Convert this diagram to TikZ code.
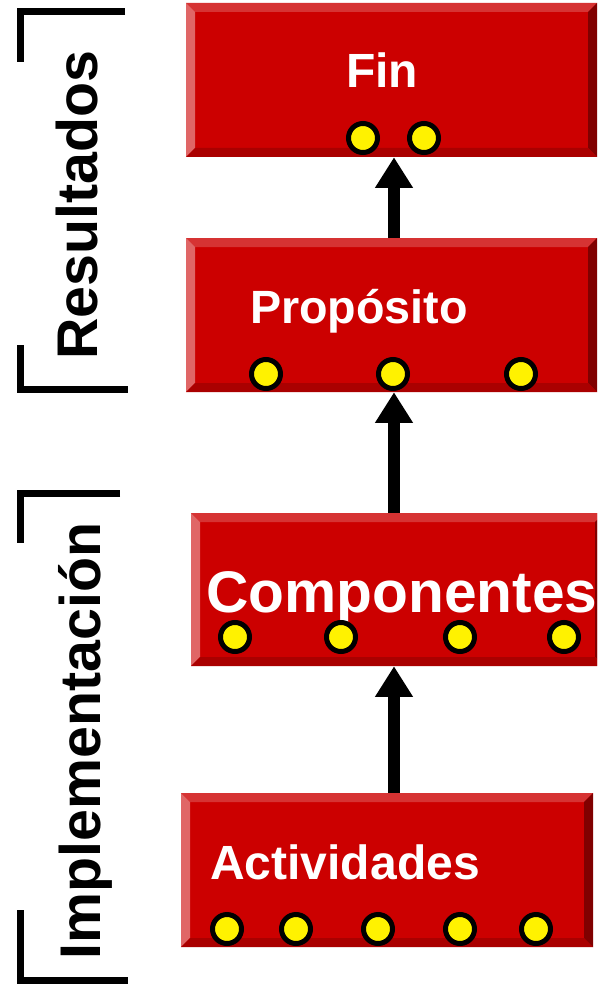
\documentclass[tikz,border=0pt]{standalone}
\usepackage{fontspec}
\setmainfont{Liberation Sans}
\usepackage{tikz}
\usetikzlibrary{arrows.meta,fit}

\definecolor{boxred}{RGB}{204,0,0}
\definecolor{bevtop}{RGB}{214,51,51}
\definecolor{bevleft}{RGB}{224,102,102}
\definecolor{bevright}{RGB}{128,0,0}
\definecolor{bevbottom}{RGB}{170,0,0}

\tikzset{
  flow/.style={line width=9pt, -{Triangle[width=27pt,length=23pt]}},
  bracket/.style={line width=5.25pt},
  dot/.style={circle, draw=black, line width=3.75pt, fill=yellow, minimum size=21.75pt, inner sep=0pt},
  boxtext/.style={text=white, anchor=base, inner sep=0pt, font=\bfseries},
  sidetext/.style={text=black, anchor=base, rotate=90, inner sep=0pt, font=\fontsize{43}{48}\selectfont\bfseries}
}

% beveled box: name, x1, y1, x2, y2
\newcommand{\bevelbox}[5]{%
  \fill[boxred] (#2,#3) rectangle (#4,#5);
  \fill[bevtop] (#2,#3) -- (#4,#3) -- ({#4-9},{#3+9}) -- ({#2+9},{#3+9}) -- cycle;
  \fill[bevleft] (#2,#3) -- ({#2+9},{#3+9}) -- ({#2+9},{#5-9}) -- (#2,#5) -- cycle;
  \fill[bevright] (#4,#3) -- (#4,#5) -- ({#4-9},{#5-9}) -- ({#4-9},{#3+9}) -- cycle;
  \fill[bevbottom] (#2,#5) -- (#4,#5) -- ({#4-9},{#5-9}) -- ({#2+9},{#5-9}) -- cycle;
  \node[fit={(#2,#3) (#4,#5)}, inner sep=0pt] (#1) {};
}

\begin{document}
\begin{tikzpicture}[x=0.75pt,y=0.75pt,yscale=-1]
\clip (0,0) rectangle (597,988);

%Shape: Boxes
\bevelbox{fin}{186}{3}{597}{157}
\bevelbox{prop}{186}{238}{597}{392}
\bevelbox{comp}{191}{513}{604}{666}
\bevelbox{act}{181}{793}{593}{947}

% Connections
\coordinate (ax) at (394,0);
\draw[flow] (prop.north -| ax) -- (fin.south -| ax);
\draw[flow] (comp.north -| ax) -- (prop.south -| ax);
\draw[flow] (act.north -| ax) -- (comp.south -| ax);

% Text Node
\node[boxtext, font=\fontsize{36}{40}\selectfont\bfseries] (finlbl) at (382,88) {Fin};
% Text Node
\node[boxtext, font=\fontsize{35}{40}\selectfont\bfseries] (proplbl) at (359,323) {Propósito};
% Text Node
\node[boxtext, font=\fontsize{44}{48}\selectfont\bfseries] (complbl) at (402,612) {Componentes};
% Text Node
\node[boxtext, font=\fontsize{36}{40}\selectfont\bfseries] (actlbl) at (345,879) {Actividades};

%Shape: Dots
\node[dot] (fin-d1) at (363,138) {};
\node[dot] (fin-d2) at (424,138) {};

\node[dot] (prop-d1) at (266,374) {};
\node[dot] (prop-d2) at (393,374) {};
\node[dot] (prop-d3) at (521,374) {};

\node[dot] (comp-d1) at (235,637) {};
\node[dot] (comp-d2) at (341,637) {};
\node[dot] (comp-d3) at (460,637) {};
\node[dot] (comp-d4) at (564,637) {};

\node[dot] (act-d1) at (227,929) {};
\node[dot] (act-d2) at (296,929) {};
\node[dot] (act-d3) at (378,929) {};
\node[dot] (act-d4) at (460,929) {};
\node[dot] (act-d5) at (536,929) {};

%Straight Lines: brackets
\draw[bracket] (125,12) -- (20,12) -- (20,62);
\draw[bracket] (20,345) -- (20,389) -- (128,389);
\draw[bracket] (120,493) -- (20,493) -- (20,543);
\draw[bracket] (20,910) -- (20,980) -- (128,980);

% Text Node
\node[sidetext] (res) at (97,205) {Resultados};
% Text Node
\node[sidetext] (impl) at (100,741) {Implementación};

\end{tikzpicture}
\end{document}
